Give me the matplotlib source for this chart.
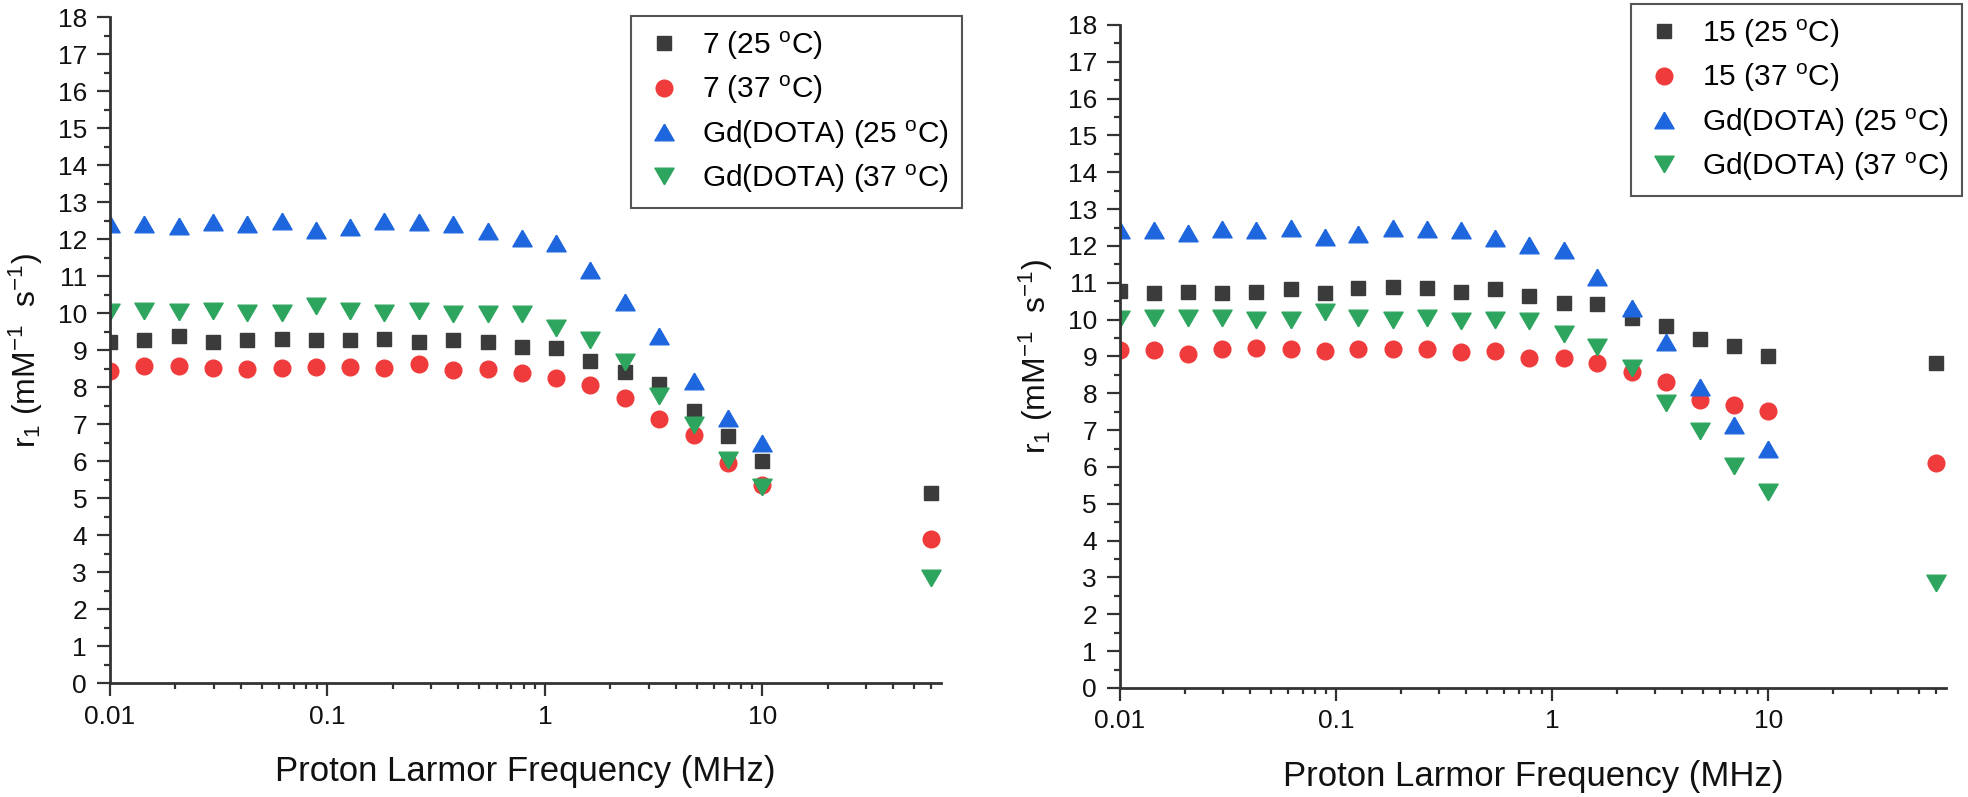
import matplotlib
matplotlib.use('Agg')
import matplotlib.pyplot as plt
from matplotlib.ticker import FixedLocator, FixedFormatter, LogLocator, NullFormatter, MultipleLocator

plt.rcParams['font.family'] = ['Liberation Sans', 'DejaVu Sans']
plt.rcParams['mathtext.fontset'] = 'custom'
plt.rcParams['mathtext.rm'] = 'Liberation Sans'
plt.rcParams['mathtext.it'] = 'Liberation Sans:italic'
plt.rcParams['mathtext.bf'] = 'Liberation Sans:bold'

# Proton Larmor frequencies (MHz)
freq = [0.01, 0.0144, 0.0207, 0.0298, 0.0428, 0.0616, 0.0886, 0.127, 0.183, 0.264,
        0.379, 0.546, 0.785, 1.13, 1.62, 2.34, 3.36, 4.83, 6.95, 10.0, 60.0]

# r1 values (mM-1 s-1)
r1_7_25 = [9.23, 9.26, 9.37, 9.23, 9.28, 9.31, 9.28, 9.28, 9.31, 9.21,
           9.26, 9.23, 9.07, 9.05, 8.70, 8.42, 8.08, 7.35, 6.68, 5.99, 5.14]
r1_7_37 = [8.44, 8.56, 8.57, 8.52, 8.50, 8.51, 8.53, 8.53, 8.51, 8.62,
           8.47, 8.49, 8.38, 8.24, 8.05, 7.70, 7.14, 6.70, 5.95, 5.35, 3.88]
r1_15_25 = [10.77, 10.71, 10.74, 10.72, 10.74, 10.83, 10.71, 10.86, 10.89, 10.86,
            10.74, 10.83, 10.63, 10.45, 10.43, 10.05, 9.84, 9.48, 9.29, 9.02, 8.82]
r1_15_37 = [9.17, 9.17, 9.08, 9.19, 9.23, 9.19, 9.14, 9.19, 9.19, 9.19,
            9.11, 9.14, 8.96, 8.96, 8.81, 8.57, 8.30, 7.82, 7.69, 7.52, 6.10]
# Gd(DOTA) reference (no 25 C point at 60 MHz)
r1_dota_25 = [12.42, 12.42, 12.34, 12.46, 12.42, 12.50, 12.25, 12.33, 12.50, 12.45,
              12.42, 12.22, 12.02, 11.90, 11.15, 10.31, 9.38, 8.17, 7.15, 6.48]
r1_dota_37 = [10.03, 10.05, 10.04, 10.05, 10.00, 10.00, 10.20, 10.05, 10.00, 10.05,
              9.97, 9.98, 9.97, 9.60, 9.26, 8.69, 7.75, 6.98, 6.02, 5.31, 2.84]

panels = [
    ('7', r1_7_25, r1_7_37, [0.0559, 0.143, 0.4223, 0.8356], (962, 16)),
    ('15', r1_15_25, r1_15_37, [0.5691, 0.1368, 0.4197, 0.8319], (1962, 4)),
]

c_black = '#3b3b3b'
c_red = '#ef3b3b'
c_blue = '#1e66de'
c_green = '#2ea55f'

# equilateral triangles like the original software draws
tri_up = [(0, 0.5), (-0.577, -0.5), (0.577, -0.5), (0, 0.5)]
tri_down = [(0, -0.5), (-0.577, 0.5), (0.577, 0.5), (0, -0.5)]

W, H = 1968, 797
fig = plt.figure(figsize=(W / 100, H / 100), dpi=100)

for name, s25, s37, rect, leg_corner in panels:
    ax = fig.add_axes(rect)
    deg = r'$^{\mathrm{o}}$'
    ax.plot(freq[:len(s25)], s25, linestyle='none', marker='s', ms=10.5,
            color=c_black, label=f'{name} (25 {deg}C)')
    ax.plot(freq[:len(s37)], s37, linestyle='none', marker='o', ms=12,
            color=c_red, label=f'{name} (37 {deg}C)')
    ax.plot(freq[:len(r1_dota_25)], r1_dota_25, linestyle='none', marker=tri_up, ms=13.8,
            color=c_blue, label=f'Gd(DOTA) (25 {deg}C)')
    ax.plot(freq[:len(r1_dota_37)], r1_dota_37, linestyle='none', marker=tri_down, ms=13.8,
            color=c_green, label=f'Gd(DOTA) (37 {deg}C)')

    ax.set_xscale('log')
    ax.set_xlim(0.01, 66.5)
    ax.set_ylim(0, 18)

    ax.xaxis.set_major_locator(FixedLocator([0.01, 0.1, 1, 10]))
    ax.xaxis.set_major_formatter(FixedFormatter(['0.01', '0.1', '1', '10']))
    ax.xaxis.set_minor_locator(LogLocator(base=10, subs=range(2, 10), numticks=20))
    ax.xaxis.set_minor_formatter(NullFormatter())
    ax.yaxis.set_major_locator(MultipleLocator(1))
    ax.yaxis.set_minor_locator(MultipleLocator(0.5))

    for side in ['top', 'right']:
        ax.spines[side].set_visible(False)
    for side in ['left', 'bottom']:
        ax.spines[side].set_linewidth(2.0)
        ax.spines[side].set_color('#333333')

    ax.tick_params(which='major', direction='out', length=9.5, width=1.6, color='#333333',
                   labelsize=19, labelcolor='#111111')
    ax.tick_params(which='minor', direction='out', length=4, width=1.6, color='#333333')
    ax.tick_params(axis='x', which='major', pad=6)
    ax.tick_params(axis='y', which='major', pad=7)

    ax.set_xlabel('Proton Larmor Frequency (MHz)', fontsize=25, labelpad=19, color='#111111')
    ax.set_ylabel(r'r$_1$ (mM$^{-1}$  s$^{-1}$)', fontsize=23, labelpad=9, color='#111111')

    leg = ax.legend(loc='upper right', bbox_to_anchor=(leg_corner[0] / W, 1 - leg_corner[1] / H),
                    bbox_transform=fig.transFigure, borderaxespad=0, fontsize=21.5,
                    fancybox=False, framealpha=1, edgecolor='#555555', numpoints=1,
                    handlelength=1.3, handletextpad=0.6, borderpad=0.45, labelspacing=0.4)
    leg.get_frame().set_linewidth(1.5)

fig.savefig('out.png', dpi=100)
